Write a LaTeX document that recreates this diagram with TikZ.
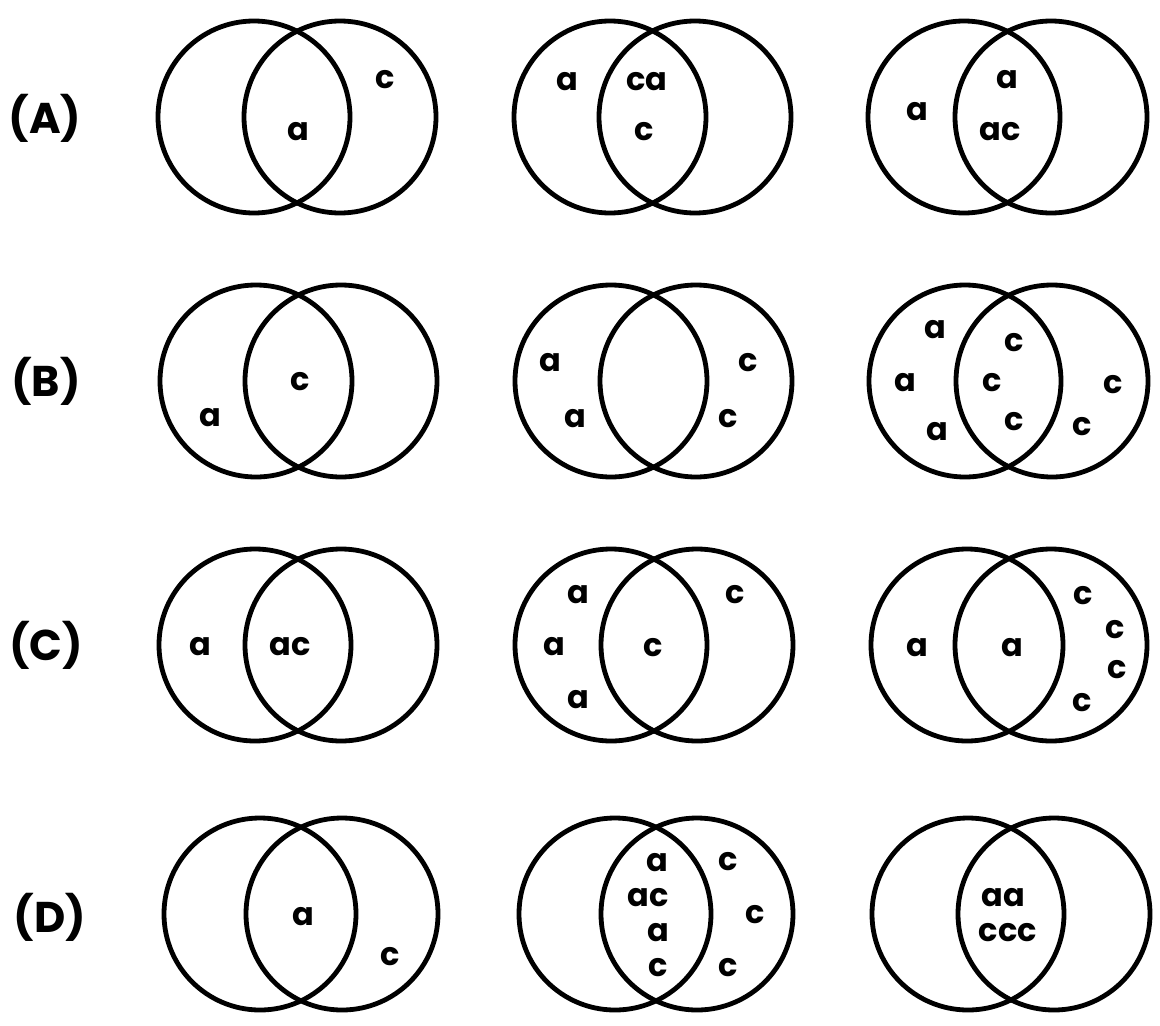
\documentclass[tikz,border=0pt]{standalone}
\usepackage{fontspec}
\setmainfont{Poppins}
\tikzset{
  ring/.style={circle, draw=black, line width=4.8pt, minimum size=192pt, inner sep=0pt},
  lbl/.style={font=\fontsize{32}{32}\selectfont\bfseries, inner sep=0pt},
  rowlbl/.style={font=\fontsize{43}{43}\selectfont\bfseries, inner sep=0pt}
}
\begin{document}
\begin{tikzpicture}[x=1pt,y=-1pt]
\useasboundingbox[fill=white] (0,0) rectangle (1160,1026);
% row labels
\node[rowlbl] (rA) at (45,118) {(A)};
\node[rowlbl] (rB) at (46,381) {(B)};
\node[rowlbl] (rC) at (46,645) {(C)};
\node[rowlbl] (rD) at (50,917) {(D)};
% row A
\node[ring] (A1L) at (254,117) {};
\node[ring] (A1R) at (340,117) {};
\node[ring] (A2L) at (610,117) {};
\node[ring] (A2R) at (695,117) {};
\node[ring] (A3L) at (964,117) {};
\node[ring] (A3R) at (1051,117) {};
\node[lbl] (a1a) at (298,132) {a};
\node[lbl] (a1b) at (385,80) {c};
\node[lbl] (a2a) at (567,82) {a};
\node[lbl] (a2b) at (647,82) {ca};
\node[lbl] (a2c) at (644,132) {c};
\node[lbl] (a3a) at (917,112) {a};
\node[lbl] (a3b) at (1007,80) {a};
\node[lbl] (a3c) at (1000,132) {ac};
% row B
\node[ring] (B1L) at (256,381) {};
\node[ring] (B1R) at (341,381) {};
\node[ring] (B2L) at (611,381) {};
\node[ring] (B2R) at (696,381) {};
\node[ring] (B3L) at (965,381) {};
\node[ring] (B3R) at (1052,381) {};
\node[lbl] (b1a) at (300,382) {c};
\node[lbl] (b1b) at (210,418) {a};
\node[lbl] (b2a) at (550,363) {a};
\node[lbl] (b2b) at (575,419) {a};
\node[lbl] (b2c) at (748,363) {c};
\node[lbl] (b2d) at (728,419) {c};
\node[lbl] (b3a) at (935,330) {a};
\node[lbl] (b3b) at (905,383) {a};
\node[lbl] (b3c) at (937,432) {a};
\node[lbl] (b3d) at (1014,343) {c};
\node[lbl] (b3e) at (992,383) {c};
\node[lbl] (b3f) at (1014,422) {c};
\node[lbl] (b3g) at (1113,385) {c};
\node[lbl] (b3h) at (1082,427) {c};
% row C
\node[ring] (C1L) at (255,645) {};
\node[ring] (C1R) at (341,645) {};
\node[ring] (C2L) at (611,645) {};
\node[ring] (C2R) at (697,645) {};
\node[ring] (C3L) at (967,645) {};
\node[ring] (C3R) at (1051,645) {};
\node[lbl] (c1a) at (200,647) {a};
\node[lbl] (c1b) at (290,647) {ac};
\node[lbl] (c2a) at (578,595) {a};
\node[lbl] (c2b) at (554,647) {a};
\node[lbl] (c2c) at (578,700) {a};
\node[lbl] (c2d) at (653,648) {c};
\node[lbl] (c2e) at (735,595) {c};
\node[lbl] (c3a) at (917,648) {a};
\node[lbl] (c3b) at (1012,648) {a};
\node[lbl] (c3c) at (1083,596) {c};
\node[lbl] (c3d) at (1115,630) {c};
\node[lbl] (c3e) at (1117,670) {c};
\node[lbl] (c3f) at (1082,703) {c};
% row D
\node[ring] (D1L) at (260,914) {};
\node[ring] (D1R) at (342,914) {};
\node[ring] (D2L) at (615,914) {};
\node[ring] (D2R) at (697,914) {};
\node[ring] (D3L) at (968,914) {};
\node[ring] (D3R) at (1054,914) {};
\node[lbl] (d1a) at (303,917) {a};
\node[lbl] (d1b) at (390,957) {c};
\node[lbl] (d2a) at (657,863) {a};
\node[lbl] (d2b) at (648,898) {ac};
\node[lbl] (d2c) at (658,933) {a};
\node[lbl] (d2d) at (658,968) {c};
\node[lbl] (d2e) at (728,862) {c};
\node[lbl] (d2f) at (755,915) {c};
\node[lbl] (d2g) at (728,968) {c};
\node[lbl] (d3a) at (1003,898) {aa};
\node[lbl] (d3b) at (1008,933) {ccc};
\end{tikzpicture}
\end{document}
